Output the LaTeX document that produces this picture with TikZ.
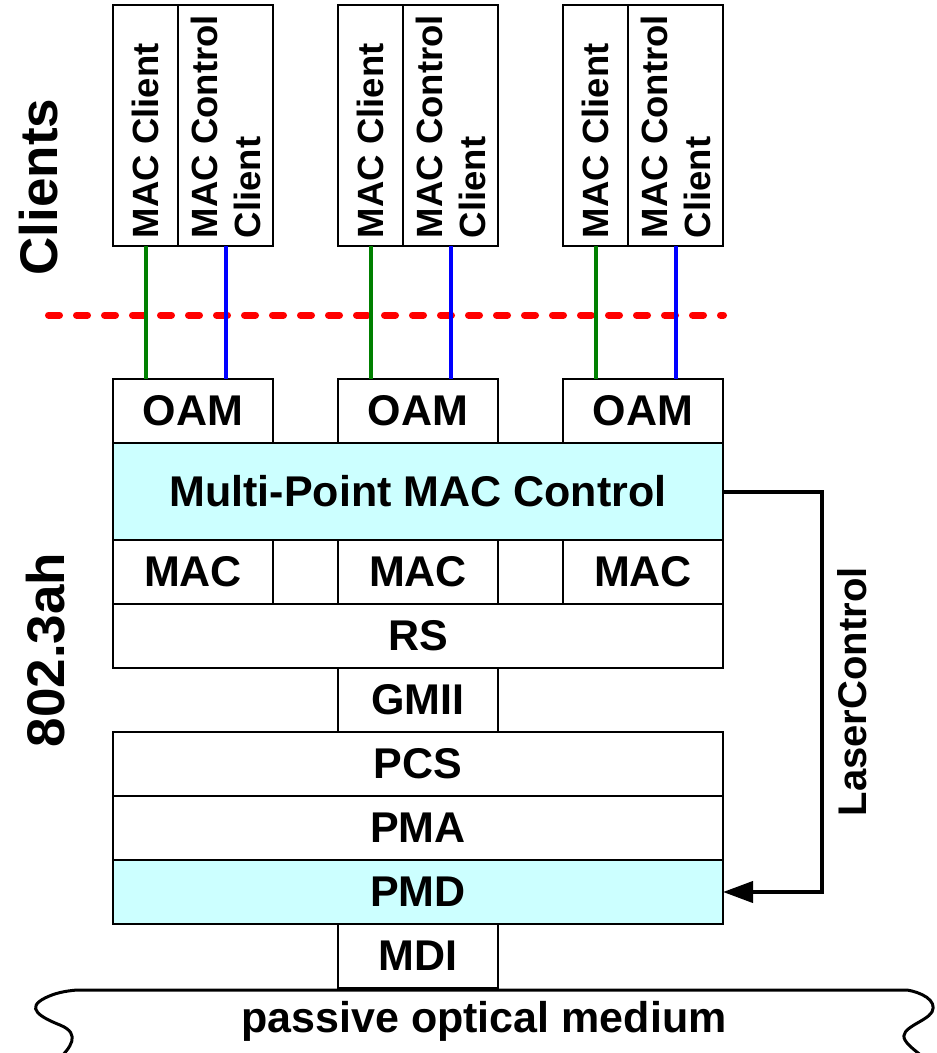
\documentclass[tikz,border=0pt]{standalone}
\usepackage{fontspec}
\setmainfont{Liberation Sans}
\usetikzlibrary{positioning,arrows.meta}
\definecolor{layercyan}{RGB}{204,255,255}
\definecolor{clientgreen}{RGB}{0,128,0}

\begin{document}
\begin{tikzpicture}[x=1pt,y=-1pt,line width=2pt,
  layer/.style={rectangle,draw,outer sep=0pt,inner sep=0pt,minimum width=610pt,minimum height=64pt,font=\fontsize{43}{50}\selectfont\bfseries},
  sublayer/.style={layer,minimum width=160pt},
  clientbox/.style={rectangle,draw,outer sep=0pt,inner sep=0pt,minimum height=241pt},
  vtext/.style={rotate=90,anchor=west,inner sep=0pt,align=left,font=\fontsize{36.5}{43}\selectfont\bfseries},
  side/.style={rotate=90,inner sep=0pt,font=\fontsize{53}{60}\selectfont\bfseries}]
\useasboundingbox (0,0) rectangle (937,1053);

\node[layer] (mpmc) [fill=layercyan, minimum height=97pt] at (418,491.5) {Multi-Point MAC Control};
\node[sublayer] (oam2) [above=0pt of mpmc] {OAM};
\node[sublayer] (oam1) [left=65pt of oam2] {OAM};
\node[sublayer] (oam3) [right=65pt of oam2] {OAM};
\node[sublayer] (mac2) [below=0pt of mpmc] {MAC};
\node[sublayer] (mac1) [left=65pt of mac2] {MAC};
\node[sublayer] (mac3) [right=65pt of mac2] {MAC};
\node[layer] (rs) [below=0pt of mac2] {RS};
\node[sublayer] (gmii) [below=0pt of rs] {GMII};
\node[layer] (pcs) [below=0pt of gmii] {PCS};
\node[layer] (pma) [below=0pt of pcs] {PMA};
\node[layer] (pmd) [fill=layercyan, below=0pt of pma] {PMD};
\node[sublayer] (mdi) [below=0pt of pmd] {MDI};

\node[clientbox] (ctl1) [minimum width=95pt, above=133pt of oam1.north east, anchor=south east] {};
\node[clientbox] (cli1) [minimum width=65pt, left=0pt of ctl1] {};
\node[clientbox] (ctl2) [minimum width=95pt, above=133pt of oam2.north east, anchor=south east] {};
\node[clientbox] (cli2) [minimum width=65pt, left=0pt of ctl2] {};
\node[clientbox] (ctl3) [minimum width=95pt, above=133pt of oam3.north east, anchor=south east] {};
\node[clientbox] (cli3) [minimum width=65pt, left=0pt of ctl3] {};
\node[vtext] (cli1t) at ([yshift=7pt]cli1.south) {MAC Client};
\node[vtext] (ctl1t) at ([yshift=7pt]ctl1.south) {MAC Control\\Client};
\node[vtext] (cli2t) at ([yshift=7pt]cli2.south) {MAC Client};
\node[vtext] (ctl2t) at ([yshift=7pt]ctl2.south) {MAC Control\\Client};
\node[vtext] (cli3t) at ([yshift=7pt]cli3.south) {MAC Client};
\node[vtext] (ctl3t) at ([yshift=7pt]ctl3.south) {MAC Control\\Client};

\draw[red, line width=7pt, line cap=round, dash pattern=on 11pt off 17pt] (48.5,315) -- (723.5,315);

\draw[clientgreen, line width=4pt] (cli1.south) -- (cli1.south |- oam1.north);
\draw[blue, line width=4pt] (ctl1.south) -- (ctl1.south |- oam1.north);
\draw[clientgreen, line width=4pt] (cli2.south) -- (cli2.south |- oam2.north);
\draw[blue, line width=4pt] (ctl2.south) -- (ctl2.south |- oam2.north);
\draw[clientgreen, line width=4pt] (cli3.south) -- (cli3.south |- oam3.north);
\draw[blue, line width=4pt] (ctl3.south) -- (ctl3.south |- oam3.north);

\draw[line width=4pt, -{Triangle[length=30pt,width=21pt]}] (mpmc.east) -- ++(99,0)
  |- node[pos=0.25, rotate=90, anchor=north, inner sep=14pt, font=\fontsize{40}{48}\selectfont\bfseries] (laser) {LaserControl} (pmd.east);

\node[side] (clients) at (39,187) {Clients};
\node[side] (std) at (46,650) {802.3ah};

\draw[line width=3pt] (58,1060) .. controls (70,1048) and (82,1034) .. (60,1025)
  .. controls (40,1017) and (25,1008) .. (45,998) .. controls (55,993) and (65,991) .. (77,990)
  -- (907,990) .. controls (920,992) and (938,1000) .. (932,1012)
  .. controls (926,1022) and (898,1028) .. (905,1040) .. controls (909,1047) and (918,1052) .. (926,1060);
\node[anchor=base, inner sep=0pt, font=\fontsize{43}{50}\selectfont\bfseries] (medium) at (484,1032) {passive optical medium};
\end{tikzpicture}
\end{document}
